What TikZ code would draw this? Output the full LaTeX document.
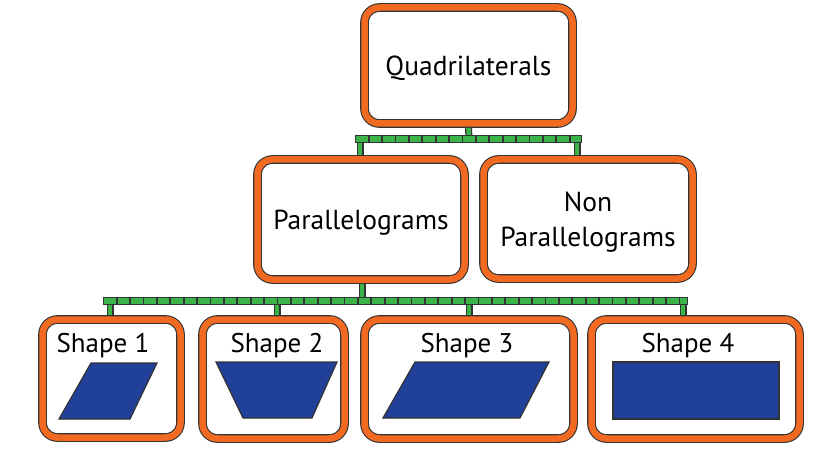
\documentclass[tikz,border=0pt]{standalone}
\usepackage{fontspec}
\setmainfont{PT Sans}
\definecolor{boxorange}{HTML}{F26A21}
\definecolor{busgreen}{HTML}{3BB44A}
\definecolor{shapeblue}{HTML}{21409A}
\definecolor{edgegray}{HTML}{333333}
\tikzstyle{card}=[draw=edgegray, line width=1.1pt, double=boxorange, double distance=6.5pt, rounded corners=15pt, fill=white, outer sep=4.4pt, inner sep=0pt, text depth=0pt, align=center, font=\fontsize{27.5}{35}\selectfont]
\tikzstyle{bus}=[draw=edgegray, line width=8.5pt, postaction={draw=busgreen, line width=5.8pt, shorten <=1.2pt, shorten >=1.2pt, dash pattern=on 11.6pt off 1.8pt}]
\tikzstyle{drop}=[draw=edgegray, line width=7pt, postaction={draw=busgreen, line width=4.6pt}]
\tikzstyle{lbl}=[anchor=base, inner sep=0pt, font=\fontsize{27}{30}\selectfont]
\tikzstyle{quad}=[fill=shapeblue, draw=edgegray, line width=1.2pt, line join=miter]

\begin{document}
\begin{tikzpicture}[x=1pt, y=-1pt]
\useasboundingbox (0,0) rectangle (840,465);
% Boxes
    \node[card, minimum width=208pt, minimum height=116pt] (quad) at (468.5,65.5) {Quadrilaterals};
    \node[card, minimum width=207pt, minimum height=120pt] (par) at (361,219.5) {Parallelograms};
    \node[card, minimum width=209pt, minimum height=119pt] (nonpar) at (588,219) {Non\\Parallelograms};
    \node[card, minimum width=138pt, minimum height=118pt] (s1) at (111.5,378.5) {};
    \node[card, minimum width=142pt, minimum height=119pt] (s2) at (273.5,379) {};
    \node[card, minimum width=209pt, minimum height=119pt] (s3) at (469,379) {};
    \node[card, minimum width=208pt, minimum height=119pt] (s4) at (695.5,379) {};
% Labels
    \node[lbl] (s1t) at (103,352) {Shape 1};
    \node[lbl] (s2t) at (277,352) {Shape 2};
    \node[lbl] (s3t) at (467,352) {Shape 3};
    \node[lbl] (s4t) at (688,352) {Shape 4};
% Shapes
    \draw[quad] (91,363) -- (157,363) -- (130,419) -- (59,419) -- cycle;
    \draw[quad] (216,362) -- (337,362) -- (312,418) -- (243,418) -- cycle;
    \draw[quad] (415,362) -- (549,362) -- (520,418) -- (383,418) -- cycle;
    \draw[quad] (613,362) rectangle (779,419);
% Upper connectors
    \coordinate (busAl) at (355,139);
    \coordinate (busAr) at (582,139);
    \coordinate (jA) at (469,139);
    \coordinate (jpar) at (360,139);
    \coordinate (jnon) at (577,139);
    \draw[drop] (quad.south) -- (jA);
    \draw[drop] (jpar) -- (jpar |- par.north);
    \draw[drop] (jnon) -- (jnon |- nonpar.north);
    \draw[bus] (busAl) -- (busAr);
% Lower connectors
    \coordinate (busBl) at (103,301);
    \coordinate (busBr) at (688,301);
    \coordinate (jB) at (362,301);
    \coordinate (j1) at (110,301);
    \coordinate (j2) at (277,301);
    \coordinate (j3) at (469,301);
    \coordinate (j4) at (683,301);
    \draw[drop] (par.south -| jB) -- (jB);
    \draw[drop] (j1) -- (j1 |- s1.north);
    \draw[drop] (j2) -- (j2 |- s2.north);
    \draw[drop] (j3) -- (j3 |- s3.north);
    \draw[drop] (j4) -- (j4 |- s4.north);
    \draw[bus] (busBl) -- (busBr);
\end{tikzpicture}
\end{document}
